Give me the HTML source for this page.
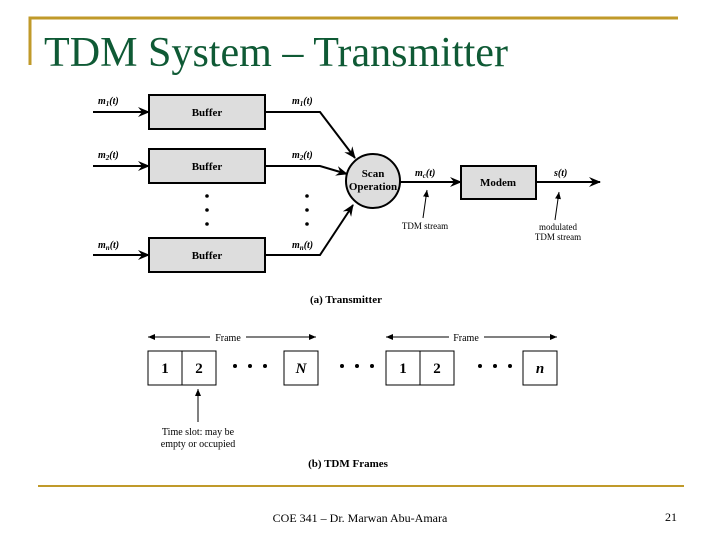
<!DOCTYPE html>
<html><head><style>
body{margin:0;width:720px;height:540px;background:#fff;overflow:hidden}
svg{display:block}
</style></head><body>
<svg width="720" height="540" viewBox="0 0 720 540" xmlns="http://www.w3.org/2000/svg" font-family="Liberation Serif, serif">
<defs>
<marker id="a" markerWidth="12" markerHeight="10" refX="11" refY="5" orient="auto" markerUnits="userSpaceOnUse"><path d="M0,0 L12,5 L0,10 L4,5Z" fill="#000"/></marker>
<marker id="s" markerWidth="7" markerHeight="6" refX="7" refY="3" orient="auto" markerUnits="userSpaceOnUse"><path d="M0,0 L7,3 L0,6Z" fill="#000"/></marker>
<marker id="sr" markerWidth="7" markerHeight="6" refX="0" refY="3" orient="auto" markerUnits="userSpaceOnUse"><path d="M7,0 L0,3 L7,6Z" fill="#000"/></marker>
</defs>
<path d="M30,65 V18 H678" fill="none" stroke="#c09a2a" stroke-width="3"/>
<text x="44" y="66" font-size="42" fill="#0f5a35" textLength="464" lengthAdjust="spacingAndGlyphs">TDM System – Transmitter</text>
<line x1="38" y1="486" x2="684" y2="486" stroke="#c09a2a" stroke-width="2"/>
<text x="360" y="522" font-size="12" text-anchor="middle">COE 341 – Dr. Marwan Abu-Amara</text>
<text x="671" y="521" font-size="12" text-anchor="middle">21</text>

<g stroke="#000" stroke-width="2" fill="none">
<rect x="149" y="95" width="116" height="34" fill="#ddd"/>
<rect x="149" y="149" width="116" height="34" fill="#ddd"/>
<rect x="149" y="238" width="116" height="34" fill="#ddd"/>
<line x1="93" y1="112" x2="149" y2="112" marker-end="url(#a)"/>
<line x1="93" y1="166" x2="149" y2="166" marker-end="url(#a)"/>
<line x1="93" y1="255" x2="149" y2="255" marker-end="url(#a)"/>
<polyline points="265,112 320,112 355,158" marker-end="url(#a)"/>
<polyline points="265,166 320,166 347,174" marker-end="url(#a)"/>
<polyline points="265,255 320,255 353,205" marker-end="url(#a)"/>
<circle cx="373" cy="181" r="27" fill="#ddd"/>
<line x1="400" y1="182" x2="461" y2="182" marker-end="url(#a)"/>
<rect x="461" y="166" width="75" height="33" fill="#ddd"/>
<line x1="536" y1="182" x2="600" y2="182" marker-end="url(#a)"/>
</g>
<g stroke="#000" stroke-width="1" fill="none">
<line x1="423" y1="218" x2="427" y2="190" marker-end="url(#s)"/>
<line x1="555" y1="220" x2="559" y2="192" marker-end="url(#s)"/>
</g>
<g fill="#000">
<circle cx="207" cy="196" r="1.8"/><circle cx="207" cy="210" r="1.8"/><circle cx="207" cy="224" r="1.8"/>
<circle cx="307" cy="196" r="1.8"/><circle cx="307" cy="210" r="1.8"/><circle cx="307" cy="224" r="1.8"/>
</g>
<g font-size="11" font-weight="bold" text-anchor="middle">
<text x="207" y="116">Buffer</text><text x="207" y="170">Buffer</text><text x="207" y="259">Buffer</text>
<text x="373" y="177">Scan</text><text x="373" y="190">Operation</text>
<text x="498" y="186">Modem</text>
<text x="346" y="303">(a) Transmitter</text>
<text x="348" y="467">(b) TDM Frames</text>
</g>
<g font-size="10" font-style="italic" font-weight="bold">
<text x="98" y="104">m<tspan font-size="7" dy="2">1</tspan><tspan dy="-2">(t)</tspan></text>
<text x="98" y="158">m<tspan font-size="7" dy="2">2</tspan><tspan dy="-2">(t)</tspan></text>
<text x="98" y="248">m<tspan font-size="7" dy="2">n</tspan><tspan dy="-2">(t)</tspan></text>
<text x="292" y="104">m<tspan font-size="7" dy="2">1</tspan><tspan dy="-2">(t)</tspan></text>
<text x="292" y="158">m<tspan font-size="7" dy="2">2</tspan><tspan dy="-2">(t)</tspan></text>
<text x="292" y="248">m<tspan font-size="7" dy="2">n</tspan><tspan dy="-2">(t)</tspan></text>
<text x="415" y="176">m<tspan font-size="7" dy="2">c</tspan><tspan dy="-2">(t)</tspan></text>
<text x="554" y="176">s(t)</text>
</g>
<g font-size="9" text-anchor="middle">
<text x="425" y="229">TDM stream</text>
<text x="558" y="230">modulated</text><text x="558" y="240">TDM stream</text>
</g>

<g stroke="#000" stroke-width="1" fill="none">
<line x1="148" y1="337" x2="210" y2="337" marker-start="url(#sr)"/>
<line x1="246" y1="337" x2="316" y2="337" marker-end="url(#s)"/>
<line x1="386" y1="337" x2="449" y2="337" marker-start="url(#sr)"/>
<line x1="484" y1="337" x2="557" y2="337" marker-end="url(#s)"/>
<rect x="148" y="351" width="34" height="34"/><rect x="182" y="351" width="34" height="34"/>
<rect x="284" y="351" width="34" height="34"/>
<rect x="386" y="351" width="34" height="34"/><rect x="420" y="351" width="34" height="34"/>
<rect x="523" y="351" width="34" height="34"/>
<line x1="198" y1="422" x2="198" y2="389" marker-end="url(#s)"/>
</g>
<g font-size="10" text-anchor="middle">
<text x="228" y="341">Frame</text><text x="466" y="341">Frame</text>
<text x="198" y="435">Time slot: may be</text><text x="198" y="447">empty or occupied</text>
</g>
<g font-size="15" font-weight="bold" text-anchor="middle">
<text x="165" y="373">1</text><text x="199" y="373">2</text>
<text x="301" y="373" font-style="italic">N</text>
<text x="403" y="373">1</text><text x="437" y="373">2</text>
<text x="540" y="373" font-style="italic">n</text>
</g>
<g fill="#000">
<circle cx="235" cy="366" r="2"/><circle cx="250" cy="366" r="2"/><circle cx="265" cy="366" r="2"/>
<circle cx="342" cy="366" r="2"/><circle cx="357" cy="366" r="2"/><circle cx="372" cy="366" r="2"/>
<circle cx="480" cy="366" r="2"/><circle cx="495" cy="366" r="2"/><circle cx="510" cy="366" r="2"/>
</g>
</svg>
</body></html>
